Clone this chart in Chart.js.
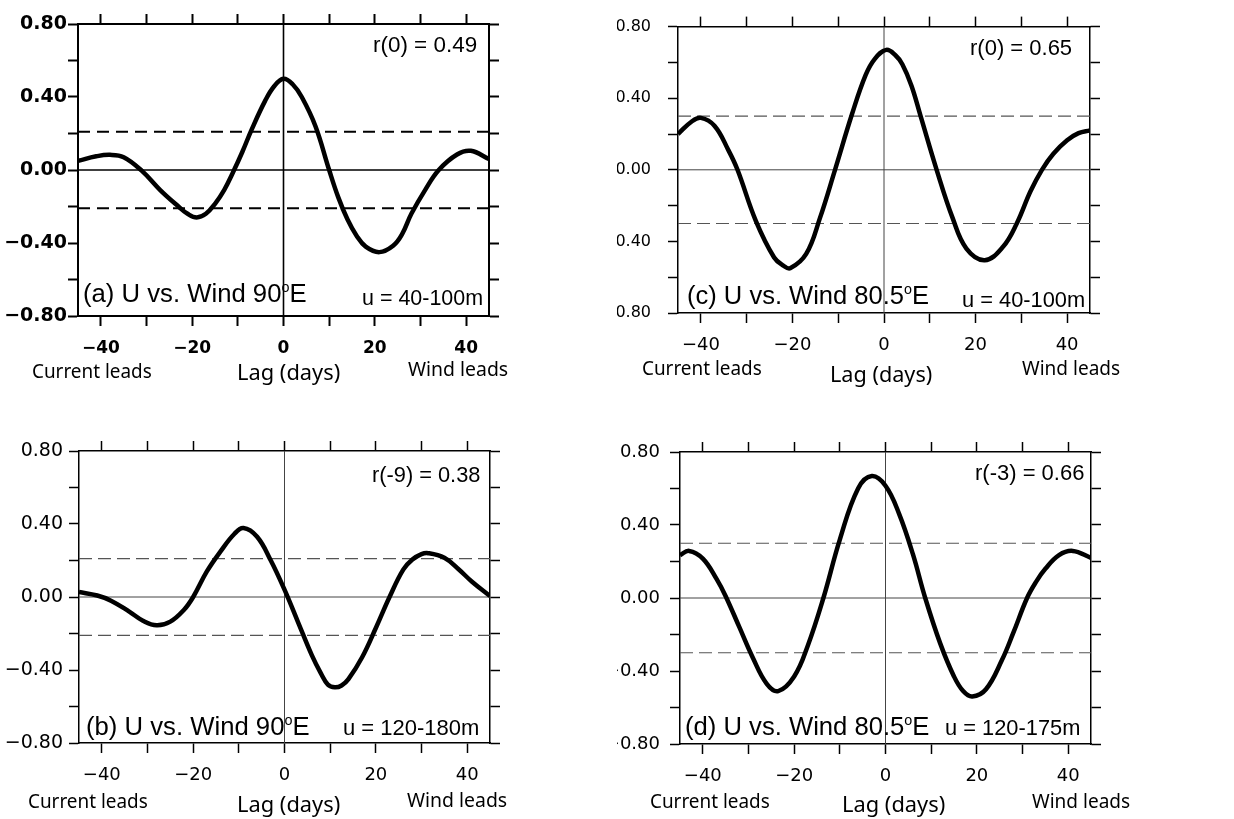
<!DOCTYPE html>
<html>
<head>
<meta charset="utf-8">
<script src="https://cdn.jsdelivr.net/npm/chart.js@4.4.1/dist/chart.umd.min.js"></script>
<style>
html, body { margin: 0; padding: 0; background: #fff; }
#wrap { position: relative; width: 1234px; height: 819px; overflow: hidden; }
canvas { position: absolute; }
.t { position: absolute; white-space: nowrap; transform-origin: 0 0; color: #000; }
</style>
</head>
<body>
<div id="wrap"></div>
<script>
// lag (days) / correlation pairs
const lagA  = [-45, -41, -38, -35, -31, -27, -23, -21, -19, -17, -15, -13, -11, -9, -7, -4, -2, 0, 2, 4, 7, 10, 12, 14, 16, 18, 21, 24, 26, 28, 31, 34, 38, 41, 45];
const corrA = [0.05, 0.075, 0.083, 0.07, -0.005, -0.11, -0.2, -0.24, -0.26, -0.24, -0.185, -0.11, -0.01, 0.1, 0.22, 0.38, 0.46, 0.5, 0.47, 0.4, 0.24, 0.0, -0.15, -0.27, -0.36, -0.42, -0.45, -0.415, -0.35, -0.24, -0.11, 0.0, 0.085, 0.105, 0.06];

const lagB  = [-45, -41, -38, -34, -31, -28, -25, -22, -20, -17, -14, -11, -9, -6, -3, 0, 3, 6, 8, 9.5, 11, 12.5, 14, 17, 20, 23, 26, 28, 30, 31.5, 35, 38, 41, 45];
const corrB = [0.027, 0.008, -0.02, -0.08, -0.13, -0.155, -0.135, -0.07, 0.0, 0.14, 0.25, 0.345, 0.378, 0.33, 0.2, 0.04, -0.14, -0.32, -0.42, -0.48, -0.495, -0.485, -0.45, -0.33, -0.17, 0.0, 0.15, 0.205, 0.235, 0.24, 0.215, 0.155, 0.085, 0.005];

const lagC  = [-45, -42, -40, -37, -34, -32, -28, -24, -22, -20.5, -17, -14, -10.7, -7, -4, -2, 0.5, 2.5, 4, 6, 8, 11.5, 15, 18, 22, 26, 29, 32, 34.5, 37, 40, 42.5, 45];
const corrC = [0.2, 0.27, 0.29, 0.245, 0.11, 0.0, -0.285, -0.49, -0.535, -0.55, -0.47, -0.27, 0.0, 0.31, 0.53, 0.62, 0.67, 0.64, 0.59, 0.47, 0.3, 0.0, -0.27, -0.44, -0.505, -0.43, -0.3, -0.12, 0.0, 0.09, 0.165, 0.205, 0.22];

const lagD  = [-45, -43, -40, -37, -35, -32, -29, -26, -23.5, -20, -17, -13.6, -10, -6, -3, 0, 3, 6, 8.7, 12, 15, 17, 19, 22, 25.5, 28, 31, 33, 35, 38, 41, 45];
const corrD = [0.235, 0.258, 0.216, 0.105, 0.01, -0.16, -0.33, -0.47, -0.51, -0.43, -0.26, 0.0, 0.32, 0.6, 0.668, 0.615, 0.46, 0.24, 0.0, -0.25, -0.43, -0.51, -0.54, -0.5, -0.34, -0.19, 0.0, 0.09, 0.16, 0.235, 0.258, 0.22];

// significance levels (dashed lines)
const sigA = 0.21, sigB = 0.21, sigC = 0.30, sigD = 0.30;

// axes
const xRange = [-45, 45];
const yRange = [-0.8, 0.8];
const xTicks = [-40, -30, -20, -10, 0, 10, 20, 30, 40];
const xLabels = [-40, -20, 0, 20, 40];
const yTicks = [-0.8, -0.6, -0.4, -0.2, 0, 0.2, 0.4, 0.6, 0.8];
const yLabels = [-0.8, -0.4, 0, 0.4, 0.8];

const wrap = document.getElementById('wrap');

function fmt(v, d) {
  const s = Math.abs(v).toFixed(d);
  return v < -1e-9 ? '\u2212' + s : s;
}

function hasLabel(list, v) {
  return list.some(l => Math.abs(l - v) < 1e-6);
}

function addText(html, x, base, w, size, fam) {
  const d = document.createElement('div');
  d.className = 't';
  d.style.font = size + 'px ' + fam;
  d.innerHTML = html + '<span style="display:inline-block;width:0;height:0"></span>';
  wrap.appendChild(d);
  const mark = d.lastChild;
  const nat = d.offsetWidth;
  d.style.left = x + 'px';
  d.style.top = (base - mark.offsetTop) + 'px';
  d.style.transform = 'scaleX(' + (w / nat) + ')';
}

const helv = '"Liberation Sans", Arial, sans-serif';
const myriad = '"Noto Sans", "Open Sans", sans-serif';
const sup = '<span style="font-size:0.56em;vertical-align:0.72em">o</span>';

const panels = [
  { lag: lagA, corr: corrA, sig: sigA,
    box: [0, 0, 560, 400], area: [78, 24, 489, 316],
    bold: true, yFont: 19, xFont: 17, yPad: 1, xPad: 12,
    curveW: 4.5, frameW: 2, refColor: '#000', refW: 1.6, dashColor: '#000', dashW: 2, dash: [12, 7],
    texts: [
      ['r(0) = 0.49', 373, 52, 104, 22, helv],
      ['(a) U vs. Wind 90' + sup + 'E', 83, 302, 224, 25, helv],
      ['u = 40-100m', 362, 305, 121, 22, helv],
      ['Current leads', 32, 378, 120, 20, myriad],
      ['Lag (days)', 237, 380, 103, 21, myriad],
      ['Wind leads', 408, 376, 100, 20, myriad]
    ] },
  { lag: lagB, corr: corrB, sig: sigB,
    box: [0, 410, 560, 409], area: [79, 451, 490, 743],
    bold: false, yFont: 19, xFont: 18, yPad: 6, xPad: 12,
    curveW: 4.5, frameW: 1.5, refColor: '#444', refW: 1, dashColor: '#555', dashW: 1.2, dash: [13, 6],
    texts: [
      ['r(-9) = 0.38', 372, 482, 108, 22, helv],
      ['(b) U vs. Wind 90' + sup + 'E', 86, 735, 224, 25, helv],
      ['u = 120-180m', 343, 735, 136, 22, helv],
      ['Current leads', 28, 808, 120, 20, myriad],
      ['Lag (days)', 237, 812, 103, 21, myriad],
      ['Wind leads', 407, 807, 100, 20, myriad]
    ] },
  { lag: lagC, corr: corrC, sig: sigC,
    box: [617, 0, 617, 400], area: [678, 21, 1090, 313],
    bold: false, yFont: 16, xFont: 18, yPad: 17, xPad: 12,
    curveW: 4.5, frameW: 1.5, refColor: '#444', refW: 1, dashColor: '#555', dashW: 1.2, dash: [13, 6],
    texts: [
      ['r(0) = 0.65', 970, 55, 102, 22, helv],
      ['(c) U vs. Wind 80.5' + sup + 'E', 687, 304, 242, 25, helv],
      ['u = 40-100m', 962, 307, 123, 22, helv],
      ['Current leads', 642, 375, 120, 20, myriad],
      ['Lag (days)', 830, 382, 102, 21, myriad],
      ['Wind leads', 1022, 375, 98, 20, myriad]
    ] },
  { lag: lagD, corr: corrD, sig: sigD,
    box: [617, 410, 617, 409], area: [680, 452, 1091, 744],
    bold: false, yFont: 18, xFont: 18, yPad: 10, xPad: 12,
    curveW: 4.5, frameW: 1.5, refColor: '#444', refW: 1, dashColor: '#555', dashW: 1.2, dash: [13, 6],
    texts: [
      ['r(-3) = 0.66', 975, 480, 109, 22, helv],
      ['(d) U vs. Wind 80.5' + sup + 'E', 685, 735, 244, 25, helv],
      ['u = 120-175m', 945, 735, 135, 22, helv],
      ['Current leads', 650, 808, 120, 20, myriad],
      ['Lag (days)', 842, 812, 103, 21, myriad],
      ['Wind leads', 1032, 808, 98, 20, myriad]
    ] }
];

function makePanel(p) {
  const [cx, cy, cw, ch] = p.box;
  const [l, t, r, b] = p.area;
  const cv = document.createElement('canvas');
  cv.width = cw; cv.height = ch;
  cv.style.left = cx + 'px'; cv.style.top = cy + 'px';
  cv.style.width = cw + 'px'; cv.style.height = ch + 'px';
  wrap.appendChild(cv);

  const tickFont = (size) => ({ family: '"DejaVu Sans", sans-serif', size: size, weight: p.bold ? 'bold' : 'normal' });
  const grid = { drawOnChartArea: false, drawTicks: true, tickLength: 10, tickWidth: p.frameW, tickColor: '#000' };
  const border = { display: true, color: '#000', width: p.frameW };

  const flat = (y) => [{ x: xRange[0], y: y }, { x: xRange[1], y: y }];

  new Chart(cv, {
    type: 'line',
    data: {
      datasets: [
        {
          data: p.lag.map((x, i) => ({ x: x, y: p.corr[i] })),
          borderColor: '#000', borderWidth: p.curveW, pointRadius: 0,
          tension: 0.4, borderJoinStyle: 'round', fill: false
        },
        { data: flat(p.sig), borderColor: p.dashColor, borderWidth: p.dashW, borderDash: p.dash, pointRadius: 0 },
        { data: flat(-p.sig), borderColor: p.dashColor, borderWidth: p.dashW, borderDash: p.dash, pointRadius: 0 },
        { data: flat(0), borderColor: p.refColor, borderWidth: p.refW, pointRadius: 0 },
        { data: [{ x: 0, y: yRange[0] }, { x: 0, y: yRange[1] }], borderColor: p.refColor, borderWidth: p.refW, pointRadius: 0 }
      ]
    },
    options: {
      responsive: false,
      animation: false,
      devicePixelRatio: 1,
      layout: { padding: 0 },
      plugins: { legend: { display: false }, tooltip: { enabled: false } },
      scales: {
        x: {
          type: 'linear', position: 'bottom', min: xRange[0], max: xRange[1],
          afterBuildTicks: s => { s.ticks = xTicks.map(v => ({ value: v })); },
          afterFit: s => { s.height = cy + ch - b; },
          ticks: { autoSkip: false, maxRotation: 0, padding: p.xPad, color: '#000', font: tickFont(p.xFont),
                   callback: v => hasLabel(xLabels, v) ? fmt(v, 0) : '' },
          grid: grid, border: border
        },
        x2: {
          type: 'linear', position: 'top', min: xRange[0], max: xRange[1],
          afterBuildTicks: s => { s.ticks = xTicks.map(v => ({ value: v })); },
          afterFit: s => { s.height = t - cy; },
          ticks: { autoSkip: false, callback: () => '' },
          grid: grid, border: border
        },
        y: {
          type: 'linear', position: 'left', min: yRange[0], max: yRange[1],
          afterBuildTicks: s => { s.ticks = yTicks.map(v => ({ value: v })); },
          afterFit: s => { s.width = l - cx; },
          ticks: { autoSkip: false, padding: p.yPad, color: '#000', font: tickFont(p.yFont),
                   callback: v => hasLabel(yLabels, v) ? fmt(v, 2) : '' },
          grid: grid, border: border
        },
        y2: {
          type: 'linear', position: 'right', min: yRange[0], max: yRange[1],
          afterBuildTicks: s => { s.ticks = yTicks.map(v => ({ value: v })); },
          afterFit: s => { s.width = cx + cw - r; },
          ticks: { autoSkip: false, callback: () => '' },
          grid: grid, border: border
        }
      }
    }
  });

  p.texts.forEach(tx => addText(tx[0], tx[1], tx[2], tx[3], tx[4], tx[5]));
}

panels.forEach(makePanel);
</script>
</body>
</html>
